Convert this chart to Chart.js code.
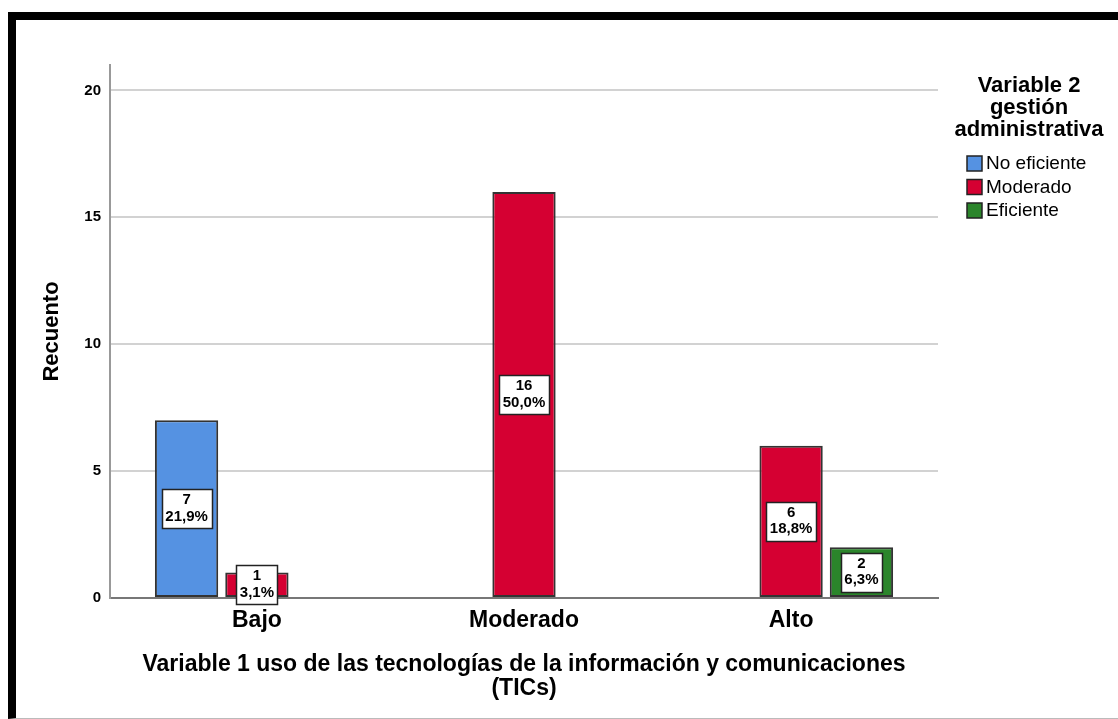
<!DOCTYPE html>
<html>
<head>
<meta charset="utf-8">
<script src="https://cdn.jsdelivr.net/npm/chart.js@4.4.1/dist/chart.umd.min.js"></script>
<style>
  html, body { margin: 0; padding: 0; background: #fff; }
  #frame {
    position: absolute; left: 8px; top: 12px; width: 1110px; height: 707px;
    box-sizing: border-box;
    border-top: 8px solid #000; border-left: 8px solid #000; border-bottom: 1px solid #bbb;
  }
  #wrap { position: absolute; left: 0; top: 0; width: 1118px; height: 719px; }
</style>
</head>
<body>
<div id="frame"></div>
<div id="wrap"><canvas id="mychart" width="1118" height="719"></canvas></div>
<script>
// categories of variable 1 (x axis)
const categories = ['Bajo', 'Moderado', 'Alto'];

// counts per level of variable 2
const noEficiente = [7, 0, 0];
const moderado = [1, 16, 6];
const eficiente = [0, 0, 2];

// percentages shown in the labels
const noEficientePct = ['21,9%', '', ''];
const moderadoPct = ['3,1%', '50,0%', '18,8%'];
const eficientePct = ['', '', '6,3%'];

const yTicks = [0, 5, 10, 15, 20];

const legendTitle = ['Variable 2', 'gestión', 'administrativa'];
const xTitle = ['Variable 1 uso de las tecnologías de la información y comunicaciones', '(TICs)'];

const FONT = '"Liberation Sans", Arial, sans-serif';

function points(values) {
    return values.map((v, i) => ({ x: i, y: v }));
}

var data = {
    datasets: [
        { label: 'No eficiente', data: points(noEficiente), pct: noEficientePct, backgroundColor: '#5592e2' },
        { label: 'Moderado', data: points(moderado), pct: moderadoPct, backgroundColor: '#d50032' },
        { label: 'Eficiente', data: points(eficiente), pct: eficientePct, backgroundColor: '#2b852b' }
    ]
};

// white boxes with count and percentage in the middle of each bar
const barLabels = {
    id: 'barLabels',
    afterDatasetsDraw(chart) {
        const ctx = chart.ctx;
        ctx.save();
        ctx.font = 'bold 15px ' + FONT;
        ctx.textAlign = 'center';
        ctx.textBaseline = 'middle';
        chart.data.datasets.forEach((ds, d) => {
            const meta = chart.getDatasetMeta(d);
            meta.data.forEach((bar, i) => {
                const v = ds.data[i].y;
                if (!v) return;
                const lines = [String(v), ds.pct[i]];
                const w = Math.round(Math.max(...lines.map(t => ctx.measureText(t).width)) + 7);
                const h = 39;
                const cx = bar.x;
                const cy = (bar.y + bar.base) / 2;
                const left = Math.round(cx - w / 2) + 0.5;
                const top = Math.round(cy - h / 2) + 0.5;
                ctx.fillStyle = '#fff';
                ctx.fillRect(left, top, w, h);
                ctx.strokeStyle = '#222';
                ctx.lineWidth = 1.5;
                ctx.strokeRect(left, top, w, h);
                ctx.fillStyle = '#000';
                ctx.fillText(lines[0], cx, cy - 8.5);
                ctx.fillText(lines[1], cx, cy + 8);
            });
        });
        ctx.restore();
    }
};

// legend on the right, title on three lines
const sideLegend = {
    id: 'sideLegend',
    afterDraw(chart) {
        const ctx = chart.ctx;
        ctx.save();
        ctx.fillStyle = '#000';
        ctx.textAlign = 'center';
        ctx.textBaseline = 'middle';
        ctx.font = 'bold 22px ' + FONT;
        legendTitle.forEach((t, i) => ctx.fillText(t, 1029, 86 + i * 22));
        ctx.font = '19px ' + FONT;
        ctx.textAlign = 'left';
        chart.data.datasets.forEach((ds, i) => {
            const y = 164 + i * 23.5;
            ctx.fillStyle = ds.backgroundColor;
            ctx.fillRect(967, y - 8, 15, 15);
            ctx.strokeStyle = '#222';
            ctx.lineWidth = 1.5;
            ctx.strokeRect(967, y - 8, 15, 15);
            ctx.fillStyle = '#000';
            ctx.fillText(ds.label, 986, y);
        });
        ctx.restore();
    }
};

var ctx = document.getElementById('mychart').getContext('2d');
var chart = new Chart(ctx, {
    type: 'bar',
    data: data,
    plugins: [barLabels, sideLegend],
    options: {
        responsive: false,
        animation: false,
        layout: { padding: { top: 65, right: 180, left: 0, bottom: 0 } },
        datasets: {
            bar: {
                categoryPercentage: 0.79,
                barPercentage: 0.9,
                borderColor: '#333',
                borderWidth: 2,
                borderSkipped: false
            }
        },
        scales: {
            x: {
                type: 'linear',
                min: -0.55,
                max: 2.55,
                offset: false,
                grid: { display: false, drawTicks: false, offset: false },
                border: { display: true, color: '#777', width: 2 },
                afterBuildTicks: (scale) => { scale.ticks = categories.map((c, i) => ({ value: i })); },
                afterFit: (scale) => { scale.height = 121; },
                ticks: {
                    padding: 9,
                    maxRotation: 0,
                    autoSkip: false,
                    color: '#000',
                    font: { family: FONT, size: 23, weight: 'bold' },
                    callback: (v) => categories[v]
                },
                title: {
                    display: true,
                    text: xTitle,
                    color: '#000',
                    padding: { top: 0, bottom: 18 },
                    font: { family: FONT, size: 23, weight: 'bold', lineHeight: 1.05 }
                }
            },
            y: {
                min: 0,
                max: 21,
                grid: {
                    drawTicks: false,
                    lineWidth: 2,
                    color: (c) => c.tick.value === 0 ? '#777' : '#d2d2d2'
                },
                border: { display: true, color: '#999', width: 2 },
                afterBuildTicks: (scale) => { scale.ticks = yTicks.map(v => ({ value: v })); },
                afterFit: (scale) => { scale.width = 110; },
                ticks: {
                    padding: 9,
                    color: '#000',
                    font: { family: FONT, size: 15, weight: 'bold' }
                },
                title: {
                    display: true,
                    text: 'Recuento',
                    color: '#000',
                    padding: { top: 39, bottom: 0 },
                    font: { family: FONT, size: 22, weight: 'bold' }
                }
            }
        },
        plugins: {
            legend: { display: false },
            tooltip: { enabled: false }
        }
    }
});
</script>
</body>
</html>
